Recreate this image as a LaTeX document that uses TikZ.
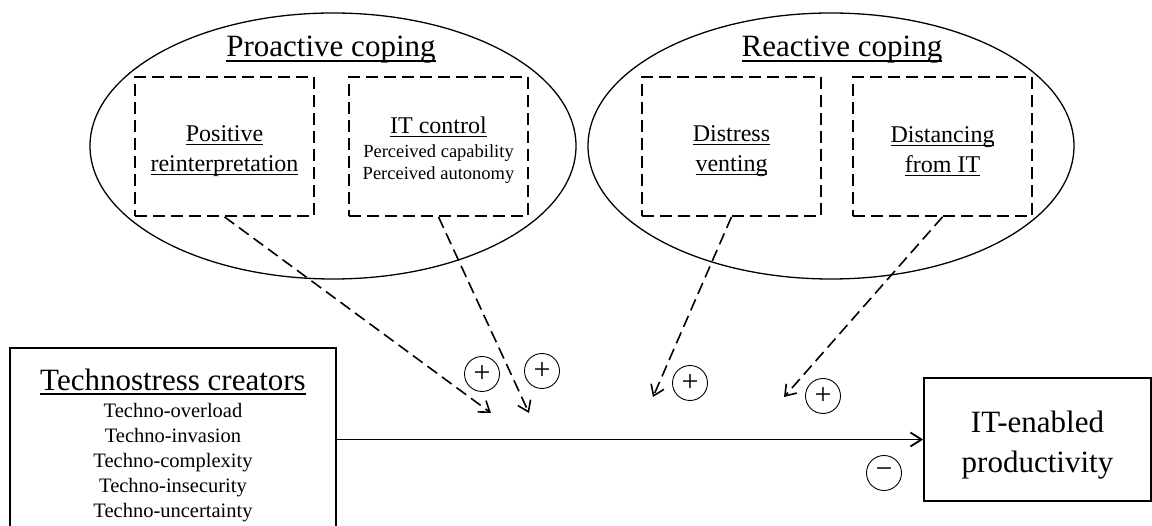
\documentclass[tikz,border=0pt]{standalone}
\usepackage{fontspec}
\setmainfont{Liberation Serif}
\usetikzlibrary{shapes.geometric,arrows.meta}
\newcommand{\myul}[1]{\leavevmode\setbox0=\hbox{#1}\rlap{\rule[-0.15em]{\wd0}{0.05em}}\box0}
\newcommand{\topstrut}[1]{\rule{0pt}{#1}}
\begin{document}
\begin{tikzpicture}[x=1pt,y=-1pt,
  grp/.style={draw, ellipse, line width=1.3pt, minimum width=486pt, minimum height=266pt, inner sep=0pt},
  dbox/.style={draw, dash pattern=on 12pt off 6pt, line width=1.8pt, minimum width=179pt, minimum height=139pt, align=center, inner sep=0pt, font=\fontsize{24}{30}\selectfont},
  sbox/.style={draw, line width=1.8pt, align=center, inner sep=0pt},
  sign/.style={draw, circle, line width=0.9pt, minimum size=35pt, inner sep=0pt, font=\fontsize{30}{30}\selectfont},
  darrow/.style={dash pattern=on 12pt off 6pt, line width=1.6pt, -{Straight Barb[length=10pt,width=14pt]}},
  marrow/.style={line width=1.8pt, -{Straight Barb[length=11pt,width=14pt]}},
  ttl/.style={anchor=base, font=\fontsize{31}{38}\selectfont}]
\clip (0,0) rectangle (1152,526);
% groups
\node[grp] (pro) at (333,146) {};
\node[grp] (rea) at (831,146) {};
\node[ttl] (prot) at (331,57) {\myul{Proactive coping}};
\node[ttl] (reat) at (842,57) {\myul{Reactive coping}};
% coping boxes
\node[dbox] (pr) at (224.5,146.5) {\topstrut{25.5pt}\myul{Positive}\\\myul{reinterpretation}};
\node[dbox, font=\fontsize{18.5}{22}\selectfont] (itc) at (438.5,146.5) {{\fontsize{24}{30}\selectfont\topstrut{23.5pt}\myul{IT control}}\\[1.5pt]Perceived capability\\Perceived autonomy};
\node[dbox] (dv) at (731.5,146.5) {\topstrut{25.5pt}\myul{Distress}\\\myul{venting}};
\node[dbox] (df) at (942.5,146.5) {\topstrut{25.5pt}\myul{Distancing}\\\myul{from IT}};
% main boxes
\node[sbox, minimum width=326pt, minimum height=194pt, font=\fontsize{20.5}{25}\selectfont] (tc) at (173,445) {{\fontsize{31}{38}\selectfont\myul{Technostress creators}}\\[2pt]Techno-overload\\Techno-invasion\\Techno-complexity\\Techno-insecurity\\Techno-uncertainty};
\node[sbox, minimum width=227pt, minimum height=123pt, font=\fontsize{31}{40}\selectfont] (ip) at (1037.5,439.5) {\topstrut{32pt}IT-enabled\\productivity};
% signs
\node[sign] (s1) at (482,374) {+};
\node[sign] (s2) at (542,371) {+};
\node[sign] (s3) at (690,383) {+};
\node[sign] (s4) at (823,396) {+};
\node[sign] (s5) at (884,473) {−};
% arrow ends
\coordinate (t1) at (491,413);
\coordinate (t2) at (529,413);
\coordinate (t3) at (653,397);
\coordinate (t4) at (784,397);
\draw[darrow] (pr.south) -- (t1);
\draw[darrow] (itc.south) -- (t2);
\draw[darrow] (dv.south) -- (t3);
\draw[darrow] (df.south) -- (t4);
\draw[marrow] (tc.east |- ip.west) -- (ip.west);
\end{tikzpicture}
\end{document}
